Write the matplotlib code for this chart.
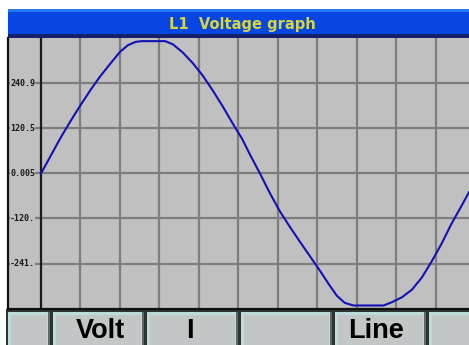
import matplotlib
matplotlib.use("Agg")
import matplotlib.pyplot as plt
from matplotlib.patches import Rectangle

# Waveform samples: time in grid divisions, voltage in volts
t_div = [0.00, 0.25, 0.50, 0.75, 1.00, 1.25, 1.50, 1.75, 2.00, 2.20,
         2.40, 2.55, 3.15, 3.35, 3.60, 3.85, 4.10, 4.35, 4.60, 4.85,
         5.10, 5.30, 5.55, 5.80, 6.05, 6.30, 6.55, 6.80, 7.05, 7.30,
         7.50, 7.70, 7.92, 8.68, 8.90, 9.15, 9.40, 9.65, 9.90, 10.15,
         10.40, 10.65, 10.849]
volts = [0, 48, 96, 140, 182, 222, 259, 292, 324, 342,
         351, 353, 353, 344, 322, 294, 261, 222, 180, 135,
         92, 50, 0, -52, -100, -141, -180, -218, -256, -296,
         -326, -345, -352, -352, -343, -330, -310, -278, -235, -188,
         -135, -88, -50]

ytick_vals = [240.9, 120.5, 0.005, -120.0, -241.0]
ytick_text = ["240.9", "120.5", "0.005", "-120.", "-241."]
title = "L1  Voltage graph"
buttons = ["", "Volt", "I", "", "Line", ""]

W, H = 469, 345
DPI = 100
fig = plt.figure(figsize=(W / DPI, H / DPI), dpi=DPI, facecolor="white")

# screen overlay in pixel coordinates (origin top-left)
ov = fig.add_axes([0, 0, 1, 1])
ov.set_xlim(0, W)
ov.set_ylim(H, 0)
ov.axis("off")

# title bar
ov.add_patch(Rectangle((8, 9), W - 8, 29, facecolor="#0846e4", edgecolor="none"))
ov.add_patch(Rectangle((8, 9), W - 8, 3, facecolor="#2a78f4", edgecolor="none"))
ov.add_patch(Rectangle((8, 34), W - 8, 4, facecolor="#14206a", edgecolor="none"))
ov.text(242, 24, title, color="#d6d640", fontsize=10.5, fontweight="bold",
        family="DejaVu Sans", ha="center", va="center")

# soft-key row
ov.add_patch(Rectangle((6, 309), W - 6, H - 309, facecolor="#2c3434", edgecolor="none"))
spans = [(8, 50), (53, 144), (147, 238), (241, 332), (335, 426), (429, 472)]
label_dx = [0, 1.5, -2.5, 0, -4.5, 0]
for (x0, x1), lab, dx in zip(spans, buttons, label_dx):
    ov.add_patch(Rectangle((x0, 312), x1 - x0, 40, facecolor="#bcdcdc", edgecolor="none"))
    ov.add_patch(Rectangle((x0 + 3, 315), x1 - x0 - 6, 40, facecolor="#c2c6c6", edgecolor="none"))
    ov.add_patch(Rectangle((x1 - 2, 312), 2, 40, facecolor="#5a6868", edgecolor="none"))
    if lab:
        ov.text((x0 + x1) / 2 + dx, 331, lab, fontsize=19.5, fontweight="bold",
                family="Liberation Sans", color="black", ha="center", va="center")

# graph area
x_left, x_right = -0.8365, 10.849
ax = fig.add_axes([8 / W, (H - 309) / H, (W - 8) / W, 271 / H])
ax.set_facecolor("#c0c0c0")
ax.set_xlim(x_left, x_right)
ax.set_ylim(-361.35, 361.35)
for k in range(1, 12):
    ax.axvline(k, color="#7e7e7e", lw=1.6, zorder=1)
for v in ytick_vals:
    ax.axhline(v, color="#7e7e7e", lw=1.6, zorder=1)
ax.axvline(0, color="#1a1a1a", lw=1.6, zorder=2)
for v, s in zip(ytick_vals, ytick_text):
    ax.text(x_left + 2 / 39.45, v, s, fontsize=6, fontweight="bold",
            family="DejaVu Sans Mono", color="#181818", ha="left", va="center",
            bbox=dict(facecolor="#c0c0c0", edgecolor="none", pad=0.3), zorder=3)
ax.plot(t_div, volts, color="#1212b4", lw=1.5, zorder=4, solid_joinstyle="round")
ax.set_xticks([])
ax.set_yticks([])
for side in ("left", "bottom"):
    ax.spines[side].set_color("#101010")
    ax.spines[side].set_linewidth(1.6)
for side in ("top", "right"):
    ax.spines[side].set_visible(False)

fig.savefig("out.png", dpi=DPI, facecolor="white")
